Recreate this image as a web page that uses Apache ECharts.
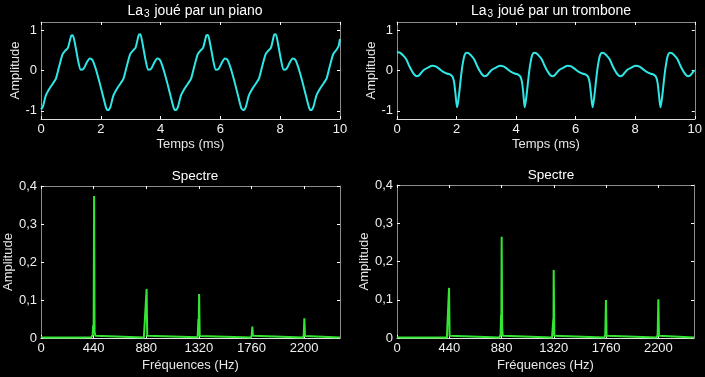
<!DOCTYPE html>
<html>
<head>
<meta charset="utf-8">
<script src="https://cdn.jsdelivr.net/npm/echarts@6/dist/echarts.min.js"></script>
<style>
  html, body { margin: 0; padding: 0; background: #000; }
  #chart { width: 705px; height: 377px; }
</style>
</head>
<body>
<div id="chart"></div>
<script>
// signal temporel du piano [temps ms, amplitude]
var pianoWave = [
  [0, -0.96], [0.06, -0.90], [0.16, -0.62], [0.28, -0.45], [0.40, -0.32], [0.50, -0.20],
  [0.60, 0.08], [0.72, 0.40], [0.82, 0.50], [0.90, 0.56], [1.01, 0.86], [1.06, 0.87],
  [1.14, 0.65], [1.24, 0.25], [1.33, 0.02], [1.42, 0.04], [1.53, 0.20], [1.63, 0.30],
  [1.72, 0.26], [1.84, 0.02], [1.96, -0.30], [2.08, -0.65], [2.18, -0.93],
  [2.24, -0.98], [2.32, -0.90], [2.42, -0.62], [2.54, -0.45], [2.66, -0.32], [2.76, -0.20],
  [2.86, 0.08], [2.98, 0.40], [3.08, 0.50], [3.16, 0.56], [3.27, 0.88], [3.32, 0.90],
  [3.40, 0.65], [3.50, 0.25], [3.59, 0.02], [3.68, 0.04], [3.79, 0.20], [3.89, 0.30],
  [3.98, 0.26], [4.10, 0.02], [4.22, -0.30], [4.34, -0.65], [4.44, -0.93],
  [4.50, -0.98], [4.58, -0.90], [4.68, -0.62], [4.80, -0.45], [4.92, -0.32], [5.02, -0.20],
  [5.12, 0.08], [5.24, 0.40], [5.34, 0.50], [5.42, 0.56], [5.53, 0.87], [5.58, 0.88],
  [5.66, 0.65], [5.76, 0.25], [5.85, 0.02], [5.94, 0.04], [6.05, 0.20], [6.15, 0.30],
  [6.24, 0.26], [6.36, 0.02], [6.48, -0.30], [6.60, -0.65], [6.70, -0.93],
  [6.77, -0.98], [6.85, -0.90], [6.95, -0.62], [7.07, -0.45], [7.19, -0.32], [7.29, -0.20],
  [7.39, 0.08], [7.51, 0.40], [7.61, 0.50], [7.69, 0.56], [7.80, 0.89], [7.85, 0.90],
  [7.93, 0.65], [8.03, 0.25], [8.12, 0.02], [8.21, 0.04], [8.32, 0.20], [8.42, 0.30],
  [8.51, 0.26], [8.63, 0.02], [8.75, -0.30], [8.87, -0.65], [8.97, -0.93],
  [9.03, -0.98], [9.11, -0.90], [9.21, -0.62], [9.33, -0.45], [9.45, -0.32], [9.55, -0.20],
  [9.65, 0.08], [9.77, 0.40], [9.87, 0.50], [9.95, 0.60], [10.00, 0.78]
]

// signal temporel du trombone
var tromboneWave = [
  [0, 0.44], [0.05, 0.45], [0.12, 0.43], [0.21, 0.37], [0.31, 0.28], [0.40, 0.13],
  [0.49, 0.00], [0.58, -0.10], [0.66, -0.14], [0.74, -0.12], [0.82, -0.05], [0.91, 0.02],
  [1.04, 0.07], [1.19, 0.12], [1.30, 0.10], [1.42, 0.04], [1.54, -0.03], [1.69, -0.08],
  [1.79, -0.10], [1.87, -0.16], [1.92, -0.30], [1.96, -0.55],
  [2.02, -0.91], [2.07, -0.68], [2.12, -0.35], [2.17, -0.02], [2.22, 0.22], [2.27, 0.38],
  [2.33, 0.44], [2.40, 0.43], [2.49, 0.37], [2.59, 0.28], [2.68, 0.13], [2.77, 0.00],
  [2.86, -0.10], [2.94, -0.14], [3.02, -0.12], [3.10, -0.05], [3.19, 0.02], [3.32, 0.07],
  [3.47, 0.12], [3.58, 0.10], [3.70, 0.04], [3.82, -0.03], [3.97, -0.08], [4.07, -0.10],
  [4.15, -0.16], [4.20, -0.30], [4.24, -0.55],
  [4.29, -0.91], [4.34, -0.68], [4.39, -0.35], [4.44, -0.02], [4.49, 0.22], [4.54, 0.38],
  [4.60, 0.44], [4.67, 0.43], [4.76, 0.37], [4.86, 0.28], [4.95, 0.13], [5.04, 0.00],
  [5.13, -0.10], [5.21, -0.14], [5.29, -0.12], [5.37, -0.05], [5.46, 0.02], [5.59, 0.07],
  [5.74, 0.12], [5.85, 0.10], [5.97, 0.04], [6.09, -0.03], [6.24, -0.08], [6.34, -0.10],
  [6.42, -0.16], [6.47, -0.30], [6.51, -0.55],
  [6.57, -0.91], [6.62, -0.68], [6.67, -0.35], [6.72, -0.02], [6.77, 0.22], [6.82, 0.38],
  [6.88, 0.44], [6.95, 0.43], [7.04, 0.37], [7.14, 0.28], [7.23, 0.13], [7.32, 0.00],
  [7.41, -0.10], [7.49, -0.14], [7.57, -0.12], [7.65, -0.05], [7.74, 0.02], [7.87, 0.07],
  [8.02, 0.12], [8.13, 0.10], [8.25, 0.04], [8.37, -0.03], [8.52, -0.08], [8.62, -0.10],
  [8.70, -0.16], [8.75, -0.30], [8.79, -0.55],
  [8.85, -0.91], [8.90, -0.68], [8.95, -0.35], [9.00, -0.02], [9.05, 0.22], [9.10, 0.38],
  [9.16, 0.44], [9.23, 0.43], [9.32, 0.37], [9.42, 0.28], [9.51, 0.13], [9.60, 0.00],
  [9.69, -0.10], [9.77, -0.14], [9.85, -0.12], [9.93, -0.05], [10.00, 0.01]
]

// spectres [fréquence Hz, amplitude]
var pianoSpectrum = [
  [0, 0.003], [20, 0.001], [300, 0.001], [420, 0.002], [432, 0.008], [437, 0.035],
  [440, 0.012], [444, 0.374], [448, 0.015], [455, 0.006], [470, 0.002],
  [860, 0.001], [876, 0.006], [883, 0.129], [888, 0.006], [900, 0.001],
  [1310, 0.002], [1316, 0.05], [1318, 0.01], [1322, 0.116], [1327, 0.005], [1340, 0.001],
  [1755, 0.001], [1762, 0.008], [1767, 0.030], [1772, 0.006], [1785, 0.001],
  [2190, 0.001], [2197, 0.008], [2202, 0.052], [2207, 0.005], [2220, 0.001], [2500, 0.001]
]
var tromboneSpectrum = [
  [0, 0.001], [420, 0.001], [432, 0.006], [438, 0.131], [443, 0.006], [455, 0.001],
  [860, 0.001], [872, 0.008], [876, 0.06], [878, 0.015], [881, 0.265], [885, 0.03],
  [890, 0.006], [905, 0.001],
  [1305, 0.001], [1313, 0.006], [1316, 0.05], [1317, 0.01], [1319, 0.178], [1324, 0.006],
  [1335, 0.001],
  [1745, 0.001], [1753, 0.008], [1759, 0.099], [1764, 0.006], [1775, 0.001],
  [2185, 0.001], [2194, 0.008], [2200, 0.101], [2205, 0.006], [2215, 0.001], [2500, 0.001]
]

var timeTicks = [0, 2, 4, 6, 8, 10]
var ampTicks = [-1, 0, 1]
var freqTicks = [0, 440, 880, 1320, 1760, 2200]
var specTicks = [0, 0.1, 0.2, 0.3, 0.4]

var font = 'Liberation Sans, Arial, sans-serif'
var chart = echarts.init(document.getElementById('chart'))

var grids = [
  { left: 41, top: 22, width: 299, height: 97 },
  { left: 397, top: 22, width: 298, height: 97 },
  { left: 41, top: 186, width: 299, height: 152 },
  { left: 397, top: 185, width: 297, height: 153 }
]

var plain = function (v) { return String(v) }
var comma = function (v) { return String(v).replace('.', ',') }

function xAx (i, min, max, ticks, name, gap) {
  return {
    type: 'value', gridIndex: i, min: min, max: max,
    name: name, nameLocation: 'middle', nameGap: gap,
    nameTextStyle: { color: '#e6e6e6', fontSize: 13, fontFamily: font },
    axisLine: { show: true, onZero: false, lineStyle: { color: '#dddddd', width: 1 } },
    axisTick: { show: true, inside: true, length: 3, customValues: ticks, lineStyle: { color: '#ffffff' } },
    axisLabel: { customValues: ticks, formatter: plain, color: '#f0f0f0', fontSize: 13, fontFamily: font, margin: 4 },
    splitLine: { show: false }
  }
}
function yAx (i, min, max, ticks, gap, fmt) {
  return {
    type: 'value', gridIndex: i, min: min, max: max,
    name: 'Amplitude', nameLocation: 'middle', nameGap: gap,
    nameTextStyle: { color: '#e6e6e6', fontSize: 13, fontFamily: font },
    axisLine: { show: true, onZero: false, lineStyle: { color: '#8c8c8c', width: 1 } },
    axisTick: { show: true, inside: true, length: 3, customValues: ticks, lineStyle: { color: '#ffffff' } },
    axisLabel: { customValues: ticks, color: '#f0f0f0', fontSize: 13, fontFamily: font, margin: 4, formatter: fmt },
    splitLine: { show: false }
  }
}
// axes miroirs (haut / droite) pour les graduations
function topAx (i, min, max, ticks) {
  return {
    type: 'value', gridIndex: i, position: 'top', min: min, max: max,
    axisLine: { show: true, onZero: false, lineStyle: { color: '#8c8c8c' } },
    axisTick: { show: true, inside: true, length: 3, customValues: ticks, lineStyle: { color: '#ffffff' } },
    axisLabel: { show: false }, splitLine: { show: false }
  }
}
function rightAx (i, min, max, ticks) {
  return {
    type: 'value', gridIndex: i, position: 'right', min: min, max: max,
    axisLine: { show: true, onZero: false, lineStyle: { color: '#8c8c8c' } },
    axisTick: { show: true, inside: true, length: 3, customValues: ticks, lineStyle: { color: '#ffffff' } },
    axisLabel: { show: false }, splitLine: { show: false }
  }
}

function title (text, cx, top, size) {
  return {
    text: text, left: cx, top: top, textAlign: 'center',
    textStyle: {
      color: '#ffffff', fontSize: size, fontWeight: 'normal', fontFamily: font,
      rich: {
        a: { color: '#ffffff', fontSize: size, fontFamily: font, lineHeight: 16, verticalAlign: 'middle' },
        s: { color: '#ffffff', fontSize: 10, fontFamily: font, lineHeight: 8, verticalAlign: 'bottom', padding: [0, 1, 0, 1] }
      }
    }
  }
}

function lineSeries (xi, yi, data, color, smooth, width) {
  return {
    type: 'line', xAxisIndex: xi, yAxisIndex: yi, data: data,
    showSymbol: false, smooth: smooth, animation: false,
    lineStyle: { color: color, width: width }
  }
}

chart.setOption({
  backgroundColor: '#000000',
  animation: false,
  title: [
    title('{a|La}{s|3}{a| joué par un piano}', 190, -2, 14),
    title('{a|La}{s|3}{a| joué par un trombone}', 546, -2, 14),
    title('Spectre', 190, 164, 13.5),
    title('Spectre', 546, 163, 13.5)
  ],
  grid: grids,
  xAxis: [
    xAx(0, 0, 10, timeTicks, 'Temps (ms)', 19),
    xAx(1, 0, 10, timeTicks, 'Temps (ms)', 19),
    xAx(2, 0, 2500, freqTicks, 'Fréquences (Hz)', 21),
    xAx(3, 0, 2500, freqTicks, 'Fréquences (Hz)', 21),
    topAx(0, 0, 10, timeTicks),
    topAx(1, 0, 10, timeTicks),
    topAx(2, 0, 2500, freqTicks),
    topAx(3, 0, 2500, freqTicks)
  ],
  yAxis: [
    yAx(0, -1.2, 1.2, ampTicks, 10, plain),
    yAx(1, -1.2, 1.2, ampTicks, 10, plain),
    yAx(2, 0, 0.4, specTicks, 20, comma),
    yAx(3, 0, 0.4, specTicks, 20, comma),
    rightAx(0, -1.2, 1.2, ampTicks),
    rightAx(1, -1.2, 1.2, ampTicks),
    rightAx(2, 0, 0.4, specTicks),
    rightAx(3, 0, 0.4, specTicks)
  ],
  series: [
    lineSeries(0, 0, pianoWave, '#2ee6e6', 0.25, 2),
    lineSeries(1, 1, tromboneWave, '#2ee6e6', 0.3, 2),
    lineSeries(2, 2, pianoSpectrum, '#33e633', false, 2),
    lineSeries(3, 3, tromboneSpectrum, '#33e633', false, 2)
  ]
})
</script>
</body>
</html>
